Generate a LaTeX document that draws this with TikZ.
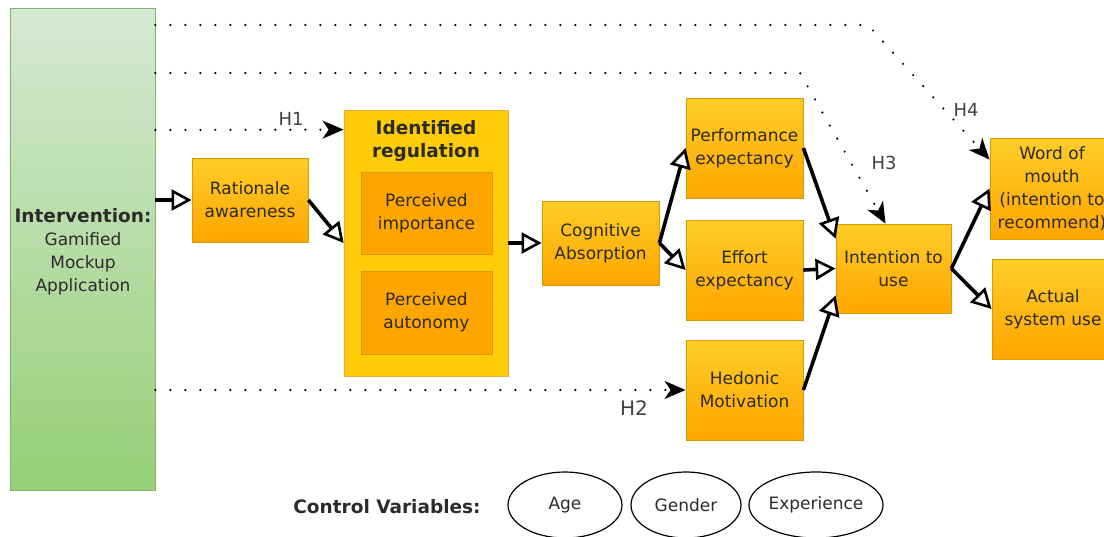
\documentclass[tikz,border=0pt]{standalone}
\usepackage{fontspec}
\setmainfont{DejaVu Sans}
\usetikzlibrary{arrows.meta,shapes.geometric,calc}
\definecolor{txt}{HTML}{2B2B2B}
\definecolor{otop}{HTML}{FFCD28}
\definecolor{obot}{HTML}{FFA500}
\definecolor{oborder}{HTML}{D79B00}
\definecolor{yfill}{HTML}{FFCC0A}
\definecolor{yborder}{HTML}{E0B040}
\definecolor{gtop}{HTML}{D5E8D4}
\definecolor{gbot}{HTML}{97D077}
\definecolor{gborder}{HTML}{82B366}
\begin{document}
\begin{tikzpicture}[x=1pt,y=-1pt,
  every node/.style={inner sep=0pt, align=center, text=txt, font=\fontsize{17}{23}\selectfont},
  bfont/.style={font=\fontsize{18.5}{23}\selectfont\bfseries},
  obox/.style={draw=oborder, line width=0.8pt, top color=otop, bottom color=obot},
  ibox/.style={draw=oborder, line width=0.8pt, fill=obot},
  ybox/.style={draw=yborder, line width=0.8pt, fill=yfill},
  gbox/.style={draw=gborder, line width=0.8pt, top color=gtop, bottom color=gbot},
  sarrow/.style={line width=3.6pt, -{Triangle[length=20pt,width=21pt,fill=white,line width=2.6pt]}},
  darrow/.style={line width=2.4pt, line cap=round, dash pattern=on 0pt off 15pt, -{Stealth[length=21pt,width=18pt,inset=6pt,line cap=butt]}},
  hlabel/.style={text=black!75, font=\fontsize{18}{20}\selectfont},
  cvar/.style={draw=black, line width=1.2pt, ellipse, minimum height=66pt}
]
\useasboundingbox (0,0) rectangle (1104,536);

% nodes
\node[gbox, minimum width=145pt, minimum height=482pt] (green) at (82.5,249) {};
\node (greent) at (83,251.5) {{\bfseries\fontsize{18.5}{23}\selectfont Intervention:}\\Gamified\\Mockup\\Application};

\node[obox, minimum width=116pt, minimum height=84pt] (rat) at (250,200) {Rationale\\awareness};

\node[ybox, minimum width=164pt, minimum height=266pt] (idreg) at (426,243) {};
\node[bfont] (idregt) at (426,141) {Identified\\regulation};
\node[ibox, minimum width=131pt, minimum height=82pt] (pimp) at (426.5,213) {Perceived\\importance};
\node[ibox, minimum width=131pt, minimum height=83pt] (paut) at (426.5,312.5) {Perceived\\autonomy};

\node[obox, minimum width=117pt, minimum height=84pt] (cog) at (600.5,243) {Cognitive\\Absorption};

\node[obox, minimum width=117pt, minimum height=100pt] (perf) at (744.5,148) {Performance\\expectancy};
\node[obox, minimum width=117pt, minimum height=100pt] (eff) at (744.5,270) {Effort\\expectancy};
\node[obox, minimum width=117pt, minimum height=100pt] (hed) at (744.5,390) {Hedonic\\Motivation};

\node[obox, minimum width=115pt, minimum height=89pt] (int) at (893.5,268.5) {Intention to\\use};

\node[obox, minimum width=124pt, minimum height=101pt] (wom) at (1052,188.5) {Word of\\mouth\\(intention to\\recommend)};
\node[obox, minimum width=122pt, minimum height=100pt] (act) at (1053,309) {Actual\\system use};

% control variables
\node[bfont] (cvt) at (387,507) {Control Variables:};
\node[cvar, minimum width=114pt] (age) at (565,505) {Age};
\node[cvar, minimum width=110pt] (gen) at (686,505) {Gender};
\node[cvar, minimum width=112pt] (exp) at (816,505) {Experience};

% solid arrows
\draw[sarrow] (green.east |- rat.west) -- (rat.west);
\draw[sarrow] (rat.east) -- (idreg.west);
\draw[sarrow] (idreg.east) -- (cog.west);
\draw[sarrow] (cog.east) -- (perf.west);
\draw[sarrow] (cog.east) -- (eff.west);
\draw[sarrow] (perf.east) -- ($(int.north west)+(0,15)$);
\draw[sarrow] (eff.east) -- (int.west);
\draw[sarrow] (hed.east) -- ($(int.south west)+(0,-18)$);
\draw[sarrow] (int.east) -- (wom.west);
\draw[sarrow] (int.east) -- (act.west);

% dotted arrows
\coordinate (b4) at (868,25);
\coordinate (b3) at (800,73);
\coordinate (b1) at (0,130);
\draw[darrow] (green.east |- b4) -- (b4) -- ($(wom.north west)+(0,22)$);
\draw[darrow] (green.east |- b3) -- (b3) -- ($(int.north)+(-8,0)$);
\draw[darrow] (green.east |- b1) -- ($(idreg.north west)+(0,20)$);
\draw[darrow] (green.east |- hed.west) -- (hed.west);

% labels
\node[hlabel] (h1) at (291,119) {H1};
\node[hlabel, font=\fontsize{20}{22}\selectfont] (h2) at (634,408) {H2};
\node[hlabel] (h3) at (884,163) {H3};
\node[hlabel] (h4) at (966,110) {H4};
\end{tikzpicture}
\end{document}
